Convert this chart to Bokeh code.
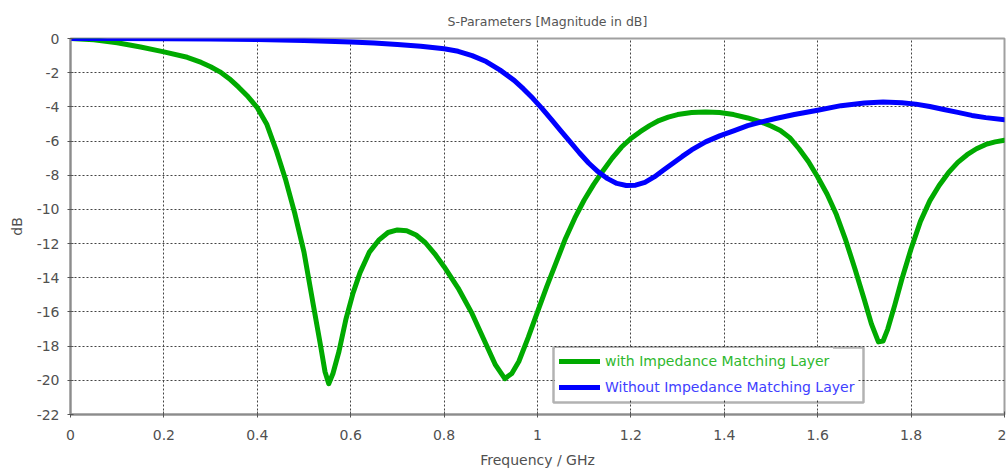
from bokeh.plotting import figure
from bokeh.models import Legend, LegendItem, FixedTicker, BoxAnnotation, Range1d
from bokeh.embed import file_html
from bokeh.resources import INLINE

# ---- data ----
freq_with = [0, 0.05, 0.1, 0.15, 0.2, 0.25, 0.28, 0.3, 0.32, 0.34, 0.36, 0.38, 0.4, 0.42,
             0.44, 0.46, 0.48, 0.5, 0.52, 0.535, 0.545, 0.553, 0.562, 0.575, 0.59, 0.605,
             0.62, 0.64, 0.66, 0.68, 0.7, 0.72, 0.74, 0.76, 0.78, 0.8, 0.83, 0.86, 0.89,
             0.91, 0.93, 0.945, 0.96, 0.98, 1.0, 1.02, 1.04, 1.06, 1.08, 1.1, 1.12, 1.14,
             1.16, 1.18, 1.2, 1.22, 1.24, 1.26, 1.28, 1.3, 1.33, 1.36, 1.39, 1.42, 1.45,
             1.48, 1.5, 1.52, 1.54, 1.56, 1.58, 1.6, 1.62, 1.64, 1.66, 1.68, 1.7, 1.715,
             1.73, 1.74, 1.75, 1.765, 1.78, 1.8, 1.82, 1.84, 1.86, 1.88, 1.9, 1.92, 1.94,
             1.96, 1.98, 2.0]
db_with = [0, -0.08, -0.25, -0.5, -0.78, -1.1, -1.4, -1.65, -1.95, -2.35, -2.85, -3.4, -4.05,
           -5.0, -6.5, -8.2, -10.2, -12.5, -15.6, -17.9, -19.5, -20.2, -19.6, -18.3, -16.4,
           -14.9, -13.7, -12.5, -11.8, -11.35, -11.2, -11.25, -11.5, -11.95, -12.6, -13.35,
           -14.6, -16.1, -17.9, -19.1, -19.9, -19.6, -18.9, -17.5, -16.0, -14.5, -13.1,
           -11.7, -10.5, -9.45, -8.55, -7.75, -7.0, -6.35, -5.85, -5.45, -5.1, -4.8, -4.6,
           -4.45, -4.33, -4.3, -4.33, -4.45, -4.65, -4.9, -5.12, -5.38, -5.8, -6.45, -7.2,
           -8.1, -9.1, -10.3, -11.8, -13.5, -15.3, -16.7, -17.75, -17.7, -17.0, -15.6,
           -14.1, -12.3, -10.7, -9.5, -8.6, -7.85, -7.25, -6.8, -6.45, -6.2, -6.05, -5.95]

freq_without = [0, 0.1, 0.2, 0.3, 0.4, 0.5, 0.6, 0.65, 0.7, 0.75, 0.8, 0.83, 0.86, 0.89, 0.92,
                0.95, 0.97, 0.99, 1.01, 1.03, 1.05, 1.07, 1.09, 1.11, 1.13, 1.15, 1.17, 1.19,
                1.21, 1.23, 1.25, 1.27, 1.29, 1.31, 1.33, 1.36, 1.39, 1.42, 1.45, 1.48, 1.51,
                1.55, 1.6, 1.65, 1.7, 1.74, 1.78, 1.81, 1.84, 1.87, 1.9, 1.93, 1.96, 2.0]
db_without = [0, 0, -0.01, -0.03, -0.06, -0.12, -0.2, -0.27, -0.35, -0.45, -0.6, -0.75, -1.0,
              -1.35, -1.85, -2.45, -2.95, -3.5, -4.1, -4.75, -5.4, -6.05, -6.7, -7.3, -7.8,
              -8.2, -8.48, -8.6, -8.58, -8.42, -8.1, -7.7, -7.3, -6.9, -6.52, -6.05, -5.7,
              -5.4, -5.1, -4.88, -4.68, -4.45, -4.2, -3.93, -3.78, -3.72, -3.76, -3.84,
              -3.98, -4.15, -4.32, -4.5, -4.63, -4.75]

x_ticks = [0, 0.2, 0.4, 0.6, 0.8, 1, 1.2, 1.4, 1.6, 1.8, 2]
x_tick_labels = ["0", "0.2", "0.4", "0.6", "0.8", "1", "1.2", "1.4", "1.6", "1.8", "2"]
y_ticks = [-22, -20, -18, -16, -14, -12, -10, -8, -6, -4, -2, 0]
y_tick_labels = ["-22", "-20", "-18", "-16", "-14", "-12", "-10", "-8", "-6", "-4", "-2", "0"]

label_with = "with Impedance Matching Layer"
label_without = "Without Impedance Matching Layer"
title_text = "S-Parameters [Magnitude in dB]"

FONT = "DejaVu Sans"

p = figure(width=1006, height=470, output_backend="svg", toolbar_location=None,
           x_range=Range1d(0, 2), y_range=Range1d(-22, 0),
           min_border_left=70, min_border_right=2, min_border_top=38, min_border_bottom=56)

p.background_fill_color = "white"
p.border_fill_color = "white"
p.outline_line_color = "#a0a0a0"
p.outline_line_width = 2

p.title.text = title_text
p.title.align = "left"
p.title.offset = 377
p.title.text_font = FONT
p.title.text_font_size = "12.5px"
p.title.text_font_style = "normal"
p.title.text_color = "#555555"
p.title.standoff = 20

for ax in (p.xaxis[0], p.yaxis[0]):
    ax.axis_line_color = "#8c8c8c"
    ax.axis_line_width = 2
    ax.major_tick_line_color = "#555555"
    ax.major_tick_in = 3
    ax.major_tick_out = 3
    ax.minor_tick_line_color = None
    ax.major_label_text_font = FONT
    ax.major_label_text_font_size = "14px"
    ax.major_label_text_color = "#505050"
    ax.axis_label_text_font = FONT
    ax.axis_label_text_font_size = "14px"
    ax.axis_label_text_font_style = "normal"
    ax.axis_label_text_color = "#505050"

p.xaxis.ticker = FixedTicker(ticks=x_ticks)
p.xaxis.major_label_overrides = dict(zip(x_ticks, x_tick_labels))
p.xaxis.major_label_standoff = 12
p.xaxis.axis_label = "Frequency / GHz"
p.xaxis.axis_label_standoff = 9

p.yaxis.ticker = FixedTicker(ticks=y_ticks)
p.yaxis.major_label_overrides = dict(zip(y_ticks, y_tick_labels))
p.yaxis.major_label_standoff = 8
p.yaxis.axis_label = "dB"
p.yaxis.axis_label_standoff = 9

for g in (p.xgrid[0], p.ygrid[0]):
    g.grid_line_color = "#444444"
    g.grid_line_dash = "2 2"
    g.grid_line_width = 1

r_with = p.line(freq_with, db_with, line_color="#00aa00", line_width=5,
                line_cap="round", line_join="round")
r_without = p.line(freq_without, db_without, line_color="#0000ff", line_width=5,
                   line_cap="round", line_join="round")


def make_legend(label, renderer, color, loc):
    return Legend(items=[LegendItem(label=label, renderers=[renderer])],
                  location=loc, orientation="vertical",
                  border_line_alpha=0, background_fill_color="white",
                  background_fill_alpha=1.0, padding=4, margin=0, spacing=0,
                  label_height=18, glyph_height=18, glyph_width=41, label_standoff=5,
                  label_text_font=FONT, label_text_font_size="14px",
                  label_text_color=color, label_text_baseline="middle")


leg_with = make_legend(label_with, r_with, "#2eb82e", (485, 40))
leg_without = make_legend(label_without, r_without, "#4040ff", (485, 14))
p.add_layout(leg_with)
p.add_layout(leg_without)

box = BoxAnnotation(left=483, right=793, bottom=12, top=67,
                    left_units="screen", right_units="screen",
                    bottom_units="screen", top_units="screen",
                    fill_alpha=0, line_color="black", line_width=2.5)
p.add_layout(box)

open("out.html", "w").write(file_html(p, INLINE))
